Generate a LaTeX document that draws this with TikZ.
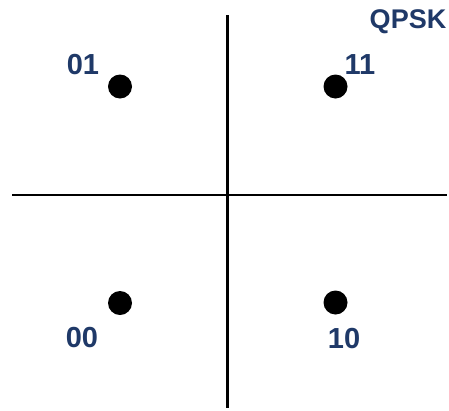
\documentclass[tikz,border=0pt]{standalone}
\usepackage{fontspec}
\setmainfont{Liberation Sans}
\usepackage{xcolor}
\usepackage{tikz}
\usetikzlibrary{positioning}
\definecolor{qpskNavy}{RGB}{31,57,104}
\definecolor{qpskBlack}{RGB}{0,0,0}
\tikzset{
  symdot/.style={circle, fill=qpskBlack, inner sep=0pt, minimum size=24pt},
  symlabel/.style={text=qpskNavy, inner sep=0pt, font=\fontsize{29}{33}\selectfont\bfseries}
}

\begin{document}
\begin{tikzpicture}[x=1pt, y=-1pt]
\useasboundingbox (0,0) rectangle (449,410);

% axes
\coordinate (xL) at (12,195);
\coordinate (xR) at (447,195);
\coordinate (yT) at (227.5,15);
\coordinate (yB) at (227.5,408);
\draw[qpskBlack, line width=2.4pt] (xL)--(xR);
\draw[qpskBlack, line width=2.4pt] (yT)--(yB);

% constellation points
\node[symdot] (p01) at (120,86.5) {};
\node[symdot] (p11) at (335.5,86.5) {};
\node[symdot] (p00) at (120,303) {};
\node[symdot] (p10) at (335.5,302.5) {};

\node[symlabel] (l01) at (83,65) {01};
\node[symlabel] (l11) at (360,65) {11};
\node[symlabel] (l00) at (82,337.5) {00};
\node[symlabel] (l10) at (344,339) {10};
\node[symlabel, font=\fontsize{27}{31}\selectfont\bfseries] (title) at (408,22) {QPSK};
\end{tikzpicture}
\end{document}
